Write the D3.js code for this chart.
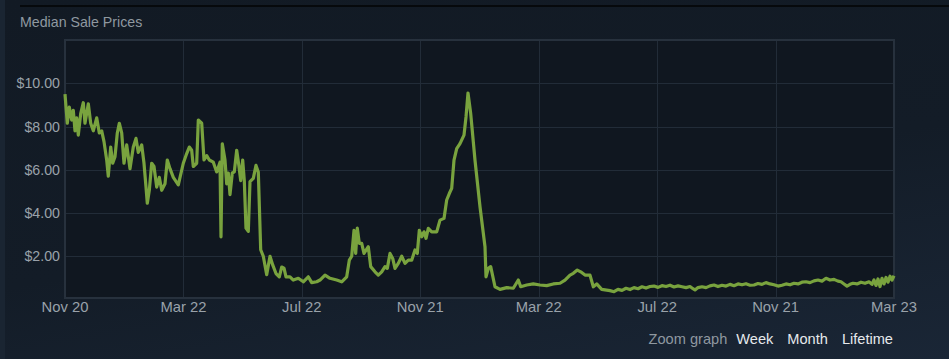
<!DOCTYPE html>
<html><head><meta charset="utf-8">
<script src="https://cdn.jsdelivr.net/npm/d3@7"></script>
<style>
html,body{margin:0;padding:0;width:949px;height:359px;overflow:hidden;
background:linear-gradient(170deg,#121a24 0%,#131c27 55%,#1a2636 100%);}
svg{display:block}
</style></head><body>
<svg id="c" width="949" height="359"></svg>
<script>
const title = "Median Sale Prices";
const xTickLabels = ["Nov 20","Mar 22","Jul 22","Nov 21","Mar 22","Jul 22","Nov 21","Mar 23"];
const yTicks = [2,4,6,8,10];
const zoomLabel = "Zoom graph";
const zoomOptions = ["Week","Month","Lifetime"];
// x: position along the time axis (0 = first label, 829 = last label)
const xs = [0,2.3,4.3,6.7,8.3,10,11.7,13.3,15.7,18.3,20,23.3,25.7,28.3,31.7,34.3,36.7,39,41.7,43.3,45.7,47.7,50,52.3,54.3,56.7,59,61.7,65,68.3,71,73.3,76.7,79,81,82.3,84.3,86.7,89,91.7,94.3,96.7,100,102.3,105,108.3,113.3,118.3,121.7,124.3,126.7,128.3,131.7,133.3,136.7,139,141.7,144.3,148.3,151.7,155,156,157.3,160,161.7,163.3,165,167.3,169.3,171.7,174,175.7,177.7,179.3,181,183.3,185,188.3,191,193.3,195.7,198.3,201.7,205,207.7,211,214.3,216.7,219,221,225,228.3,233.3,238.3,243.3,246.7,251.7,255,260,265,271.7,276.7,281.7,284.3,286.7,289,290.7,292.3,294.3,296.7,299,303.3,305.7,310,313.3,316.7,320,322.3,325,327.7,330,333.3,336.7,340,343.3,346.7,350,352.3,354.3,356.7,359,361,363.3,366.7,371.7,375,379,381.7,384.3,386.7,389,391.7,395,399,401,403,405.7,410,415,420,421,423.3,425.7,430,435,441.7,448.3,453.3,455.7,461.7,468.3,475,481.7,488.3,495,500,505,508.3,512.3,515.7,520,525,528.3,531.7,536.7,545,549,553,557,561,565,569,573,577,581,585,589,593,597,601,605,609,613,617,621,625,628,630,633,637,641,645,649,653,657,661,665,669,673,677,681,685,689,693,697,701,705,709,713,717,721,725,729,733,737,741,745,749,753,757,761,765,769,773,776,779,782,785,788,792,796,800,804,807,809,811,813,815,817,819,821,823,825,827,829];
const prices = [9.5,8.15,8.9,8.3,8.75,7.8,8.4,7.6,8.6,9.1,8.15,9.05,8.15,7.8,8.4,7.7,7.8,7.3,6.45,5.7,7.05,6.3,6.6,7.7,8.15,7.7,6.3,7.15,6.05,7.05,7.45,6.8,7.15,6.3,5.2,4.45,5.05,6.3,6.15,5.2,5.65,5.05,5.35,6.45,6.05,5.65,5.3,6.3,6.75,7.05,6.9,6.15,6.3,8.3,8.15,6.45,6.65,6.45,6.35,5.9,6.35,2.9,7.2,6.45,5.35,5.85,4.85,5.85,5.9,6.9,6.15,5.5,6.45,5.5,3.3,3.15,5.45,5.6,6.2,5.9,2.3,2.0,1.15,2.0,1.6,1.2,1.05,1.5,1.45,1.05,1.05,0.9,0.98,0.82,1.05,0.78,0.82,0.9,1.13,0.98,0.9,0.82,1.05,1.82,2.0,3.2,2.13,3.3,2.6,2.6,2.13,2.44,1.52,1.28,1.13,1.28,1.52,1.44,2.13,1.9,1.44,1.67,2.0,1.67,1.82,1.82,2.29,2.13,3.2,2.9,3.13,2.83,3.29,3.13,3.13,3.67,3.75,4.6,4.9,5.14,6.44,6.98,7.21,7.6,8.44,9.55,8.6,6.44,4.29,2.44,1.05,1.44,1.52,0.59,0.47,0.55,0.52,0.9,0.59,0.67,0.72,0.67,0.64,0.72,0.75,0.9,1.13,1.21,1.36,1.28,1.13,1.13,0.59,0.72,0.47,0.41,0.36,0.47,0.42,0.52,0.46,0.55,0.5,0.59,0.53,0.6,0.62,0.56,0.64,0.6,0.66,0.58,0.63,0.59,0.55,0.6,0.5,0.44,0.55,0.59,0.55,0.63,0.67,0.6,0.66,0.62,0.7,0.64,0.72,0.68,0.73,0.66,0.67,0.74,0.7,0.78,0.72,0.68,0.62,0.66,0.72,0.68,0.75,0.72,0.8,0.82,0.78,0.86,0.9,0.85,0.98,0.9,0.93,0.85,0.82,0.72,0.62,0.7,0.75,0.72,0.8,0.75,0.82,0.7,0.9,0.65,0.95,0.6,0.98,0.72,1.02,0.8,1.08,0.9,1.1];

const svg = d3.select("#c");
const FONT = "Liberation Sans, Arial, sans-serif";
const L = 65, R = 894, T = 40, B = 298;
const x = d3.scaleLinear().domain([0, 829]).range([L, R]);
const y = d3.scaleLinear().domain([0, 12]).range([299.5, T]);
const tickPos = xTickLabels.map((d,i)=> i*829/(xTickLabels.length-1));

// left strip and top rule
svg.append("rect").attr("x",0).attr("y",0).attr("width",5).attr("height",359).attr("fill","#1a2532");
svg.append("rect").attr("x",20).attr("y",5).attr("width",929).attr("height",2).attr("fill","#06090c");

svg.append("text").attr("x",20).attr("y",27).text(title)
  .attr("font-family",FONT).attr("font-size",14.2).attr("fill","#8f98a0");

// plot bg
svg.append("rect").attr("x",L).attr("y",T).attr("width",R-L).attr("height",B-T).attr("fill","#101720");

// grid
svg.append("g").selectAll("line").data(yTicks).join("line")
  .attr("x1",L).attr("x2",R).attr("y1",d=>Math.round(y(d))+0.5).attr("y2",d=>Math.round(y(d))+0.5)
  .attr("stroke","#222c38").attr("stroke-width",1);
svg.append("g").selectAll("line").data(tickPos.slice(1,-1)).join("line")
  .attr("y1",T).attr("y2",B).attr("x1",d=>Math.round(x(d))+0.5).attr("x2",d=>Math.round(x(d))+0.5)
  .attr("stroke","#222c38").attr("stroke-width",1);

// border
svg.append("rect").attr("x",L).attr("y",T).attr("width",R-L).attr("height",B-T)
  .attr("fill","none").attr("stroke","#27313d").attr("stroke-width",2);

// line
const line = d3.line().x((d,i)=>x(xs[i])).y(d=>y(d)).curve(d3.curveLinear);
svg.append("path").datum(prices).attr("d",line).attr("fill","none")
  .attr("stroke","#79a33e").attr("stroke-width",3.2).attr("stroke-linejoin","round");

// y labels
svg.append("g").selectAll("text").data(yTicks).join("text")
  .attr("x",60).attr("y",d=>y(d)+5).attr("text-anchor","end")
  .attr("font-family",FONT).attr("font-size",14.2).attr("fill","#9aa2aa")
  .text(d=>"$"+d.toFixed(2));

// x labels
svg.append("g").selectAll("text").data(xTickLabels).join("text")
  .attr("x",(d,i)=>x(tickPos[i])).attr("y",312).attr("text-anchor","middle")
  .attr("font-family",FONT).attr("font-size",14.8).attr("fill","#9aa2aa")
  .text(d=>d);

// zoom controls
const zg = svg.append("text").attr("y",344).attr("font-family",FONT).attr("font-size",14.6)
  .attr("x",893).attr("text-anchor","end");
zg.append("tspan").attr("fill","#8f98a0").text(zoomLabel);
zoomOptions.forEach((o,i)=>{
  zg.append("tspan").attr("fill","#e6e9ec").attr("dx",i===0?9:14).text(o);
});
</script>
</body></html>
